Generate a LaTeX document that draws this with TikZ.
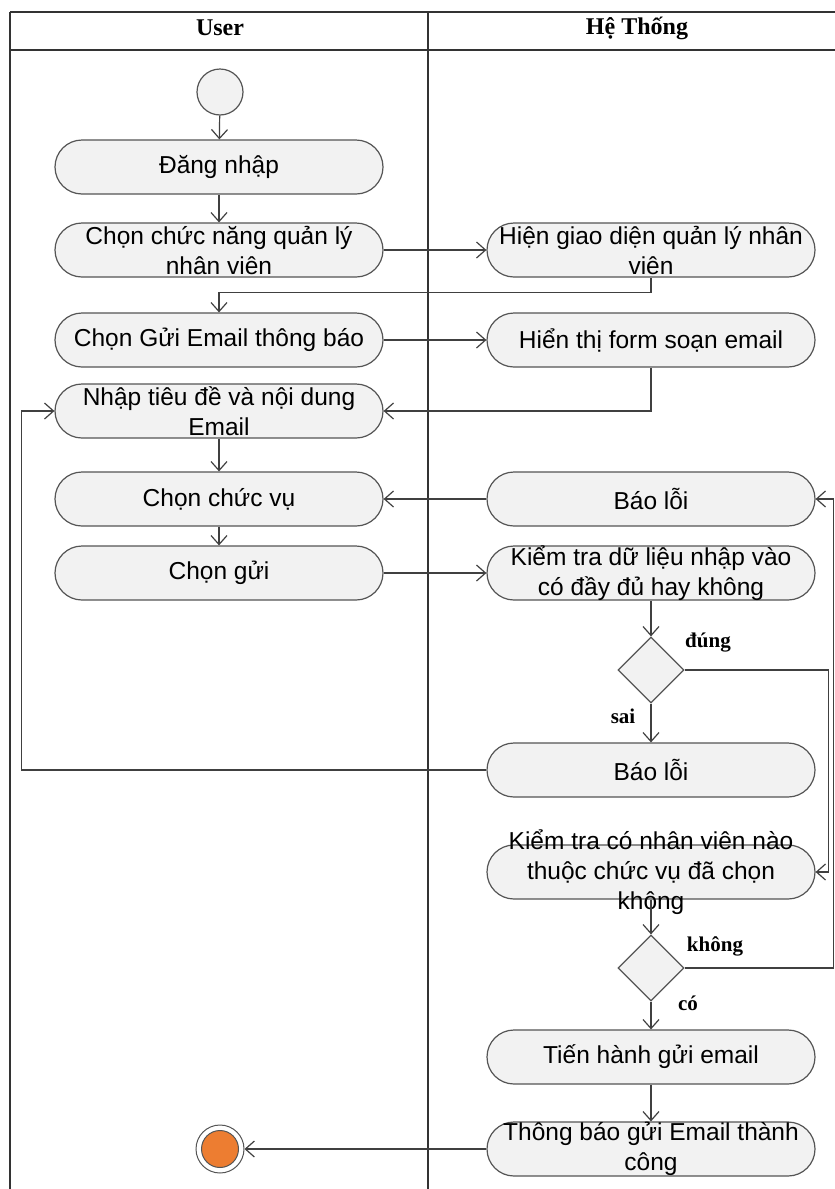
\documentclass[tikz,border=0pt]{standalone}
\usepackage{fontspec}
\setmainfont{Liberation Sans}
\newfontfamily\guardfont{Liberation Serif}
\usetikzlibrary{arrows.meta,shapes.geometric}

\definecolor{actfill}{HTML}{F2F2F2}
\definecolor{actline}{HTML}{555555}
\definecolor{endfill}{HTML}{ED7D31}

\tikzstyle{lane}=[draw=black!80,line width=1.4pt]
\tikzstyle{action}=[draw=actline,fill=actfill,line width=1.2pt,rounded corners=27pt,minimum width=328pt,minimum height=54pt,inner sep=0pt]
\tikzstyle{txt}=[align=center,font=\fontsize{24.5}{30}\selectfont,inner sep=0pt]
\tikzstyle{decision}=[diamond,draw=actline,fill=actfill,line width=1.2pt,minimum size=66pt,inner sep=0pt]
\tikzstyle{startnode}=[circle,draw=actline,fill=actfill,line width=1.2pt,minimum size=46pt,inner sep=0pt]
\tikzstyle{endring}=[circle,draw=actline,fill=white,line width=1pt,minimum size=48pt,inner sep=0pt]
\tikzstyle{endcore}=[circle,draw=actline,fill=endfill,line width=1pt,minimum size=37pt,inner sep=0pt]
\tikzstyle{flow}=[draw=black!75,line width=1.2pt,-{Straight Barb[length=9pt,width=16pt]}]
\tikzstyle{guard}=[font=\guardfont\bfseries\fontsize{21}{24}\selectfont,inner sep=0pt]
\tikzstyle{head}=[font=\guardfont\bfseries\fontsize{24}{26}\selectfont,inner sep=0pt]

\begin{document}
\begin{tikzpicture}[x=1pt,y=-1pt]
                  \useasboundingbox (0,0) rectangle (835,1189);
                  % Swimlanes
                  \draw[lane] (10,12) -- (835,12);
                  \draw[lane] (10,50) -- (835,50);
                  \draw[lane] (10,12) -- (10,1189);
                  \draw[lane] (428,12) -- (428,1189);
                  \node[head] (huser) at (220,28) {User};
                  \node[head] (hsys) at (637,28) {Hệ Thống};
                  % First we draw the actions
                  \foreach \pos/\name/\la in {{(219,167)/login/Đăng nhập},
                  {(219,250)/chonql/Chọn chức năng quản lý\\nhân viên},
                  {(219,340)/chonmail/Chọn Gửi Email thông báo},
                  {(219,411)/nhap/Nhập tiêu đề và nội dung\\Email},
                  {(219,499)/chonvu/Chọn chức vụ},
                  {(219,573)/chongui/Chọn gửi},
                  {(651,250)/hienql/Hiện giao diện quản lý nhân\\viên},
                  {(651,340)/form/Hiển thị form soạn email},
                  {(651,499)/loi1/Báo lỗi},
                  {(651,573)/ktdl/Kiểm tra dữ liệu nhập vào\\có đầy đủ hay không},
                  {(651,770)/loi2/Báo lỗi},
                  {(651,872)/ktnv/Kiểm tra có nhân viên nào\\thuộc chức vụ đã chọn\\không},
                  {(651,1057)/guimail/Tiến hành gửi email},
                  {(651,1149)/tbao/Thông báo gửi Email thành\\công}}
                        \node[action,label={[txt]center:\la}] (\name) at \pos {};
                  % Decisions, start and end
                  \node[decision] (d1) at (651,670) {};
                  \node[decision] (d2) at (651,968) {};
                  \node[startnode] (start) at (220,92) {};
                  \node[endring] (stop) at (220,1149) {};
                  \node[endcore] (stopcore) at (stop) {};
                  % Straight flows
                  \foreach \source/ \dest in {start/login,login/chonql,chonql/hienql,chonmail/form,
                  nhap/chonvu,loi1/chonvu,chonvu/chongui,chongui/ktdl,ktdl/d1,ktnv/d2,guimail/tbao,tbao/stop}
                  \path[flow] (\source) -- (\dest);
                  \path[flow] (d1) -- (loi2);
                  \path[flow] (d2) -- (guimail);
                  % Bent flows
                  \path[flow] (hienql.south) -- ++(0,15) -| (chonmail.north);
                  \path[flow] (form.south) |- (nhap.east);
                  \path[flow] (d1.east) -- ++(144,0) |- (ktnv.east);
                  \path[flow] (d2.east) -- ++(149,0) |- (loi1.east);
                  \path[flow] (loi2.west) -- ++(-465,0) |- (nhap.west);
                  % Guards
                  \node[guard] (gdung) at (708,643) {đúng};
                  \node[guard] (gsai) at (623,716) {sai};
                  \node[guard] (gkhong) at (715,946) {không};
                  \node[guard] (gco) at (688,1003) {có};
            \end{tikzpicture}
\end{document}
